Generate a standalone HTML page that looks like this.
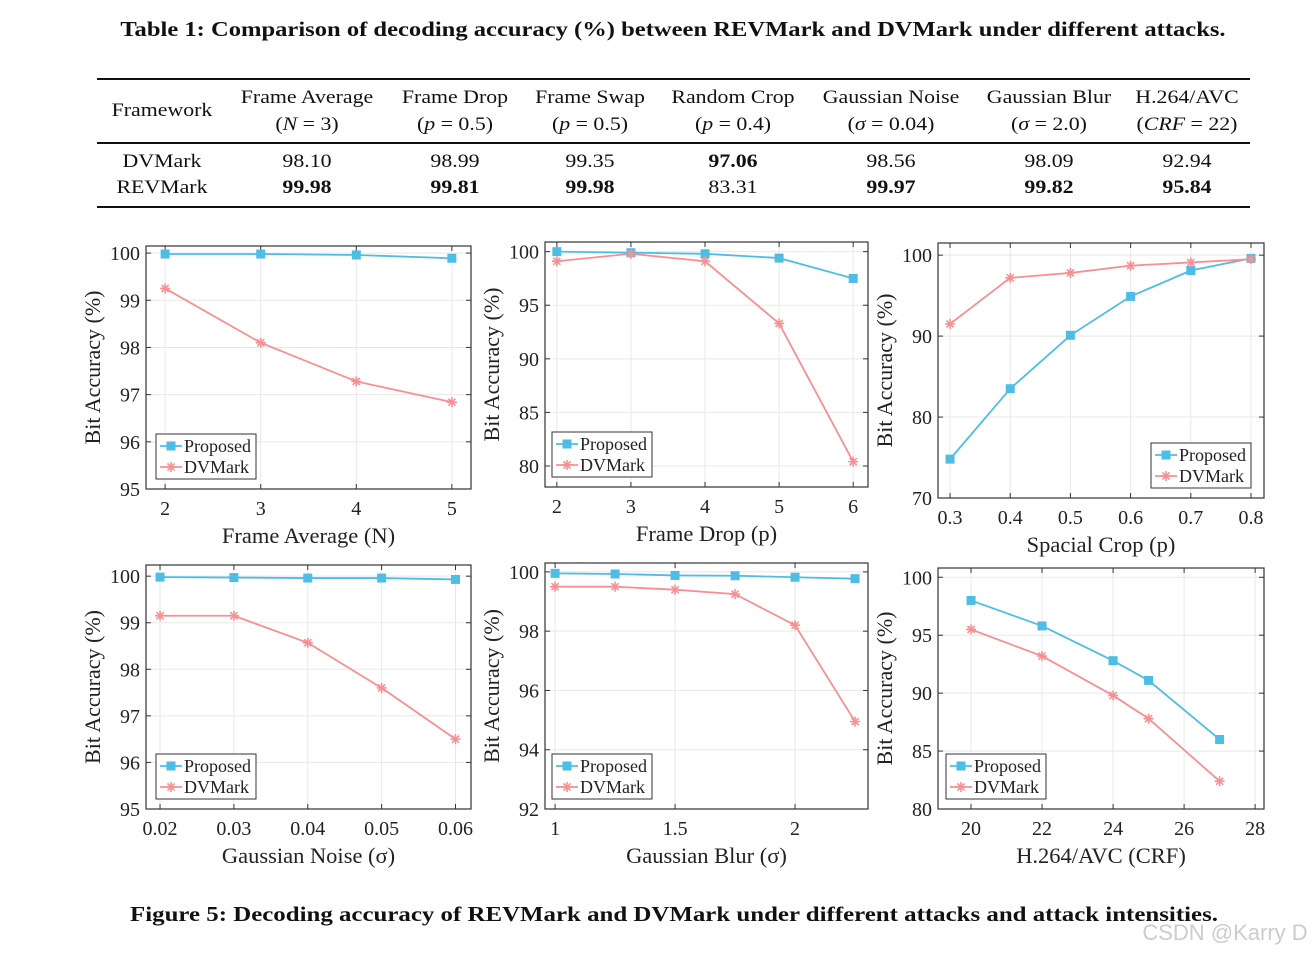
<!DOCTYPE html>
<html><head><meta charset="utf-8"><style>
body{margin:0;width:1315px;height:956px;background:#fff;position:relative;overflow:hidden;font-family:"Liberation Serif",serif;color:#111}
.t{position:absolute;white-space:nowrap;transform:translateX(-50%) scaleX(1.15);font-size:19px}
.b{font-weight:bold}
.hl{position:absolute;left:97px;width:1153px;background:#111}
</style></head><body>
<div class="t b" style="left:673px;top:17px;font-size:21px;transform:translateX(-50%) scaleX(1.17)">Table 1: Comparison of decoding accuracy (%) between REVMark and DVMark under different attacks.</div>
<div class="hl" style="top:78px;height:2px"></div>
<div class="hl" style="top:142px;height:1.5px"></div>
<div class="hl" style="top:206px;height:2px"></div>
<div id="tbl"></div>
<svg id="ch" width="1315" height="956" style="position:absolute;left:0;top:0"></svg>
<div class="t b" style="left:674px;top:902px;font-size:21px;transform:translateX(-50%) scaleX(1.185)">Figure 5: Decoding accuracy of REVMark and DVMark under different attacks and attack intensities.</div>
<div class="t" style="left:1225px;top:920px;font-family:'Liberation Sans',sans-serif;color:#ccc;font-size:22px;transform:translateX(-50%)">CSDN @Karry D</div>
<script>
const cols=[162,307,455,590,733,891,1049,1187];
const head1=["Framework","Frame Average","Frame Drop","Frame Swap","Random Crop","Gaussian Noise","Gaussian Blur","H.264/AVC"];
const head2=["","(<i>N</i> = 3)","(<i>p</i> = 0.5)","(<i>p</i> = 0.5)","(<i>p</i> = 0.4)","(<i>σ</i> = 0.04)","(<i>σ</i> = 2.0)","(<i>CRF</i> = 22)"];
const rowDV=["DVMark","98.10","98.99","99.35","97.06","98.56","98.09","92.94"];
const rowRE=["REVMark","99.98","99.81","99.98","83.31","99.97","99.82","95.84"];
const boldDV=[0,0,0,0,1,0,0,0], boldRE=[0,1,1,1,0,1,1,1];
const tb=document.getElementById('tbl');
function cell(txt,x,y,bold,name){const d=document.createElement('div');d.className='t'+(bold?' b':'');d.style.left=x+'px';d.style.top=y+'px';d.innerHTML=txt;


tb.appendChild(d);}
cols.forEach((x,i)=>{
 if(i==0)cell(head1[i],x,100,0,'header-framework');else{cell(head1[i],x,87,0,'header-cell');cell(head2[i],x,114,0,'header-param');}
 cell(rowDV[i],x,151,boldDV[i],'dvmark-cell');cell(rowRE[i],x,177,boldRE[i],'revmark-cell');
});

const NS='http://www.w3.org/2000/svg';const svg=document.getElementById('ch');
function el(t,a,p){const e=document.createElementNS(NS,t);for(const k in a)e.setAttribute(k,a[k]);(p||svg).appendChild(e);return e;}
const BLUE='#4dbde6',RED='#f98f92';
// chart data
const x1=[2,3,4,5], p1=[99.98,99.98,99.96,99.89], d1=[99.25,98.1,97.28,96.84];
const x2=[2,3,4,5,6], p2=[100,99.9,99.8,99.4,97.5], d2=[99.1,99.8,99.1,93.3,80.4];
const x3=[0.3,0.4,0.5,0.6,0.7,0.8], p3=[74.8,83.5,90.1,94.9,98.1,99.6], d3=[91.5,97.2,97.8,98.7,99.1,99.5];
const x4=[0.02,0.03,0.04,0.05,0.06], p4=[99.98,99.97,99.96,99.96,99.93], d4=[99.15,99.15,98.57,97.6,96.5];
const x5=[1,1.25,1.5,1.75,2,2.25], p5=[99.95,99.93,99.88,99.87,99.82,99.77], d5=[99.5,99.5,99.4,99.25,98.2,94.95];
const x6=[20,22,24,25,27], p6=[98,95.8,92.8,91.1,86], d6=[95.5,93.2,89.8,87.8,82.4];
const xt1=["2","3","4","5"],yt1=["95","96","97","98","99","100"];
const xt2=["2","3","4","5","6"],yt2=["80","85","90","95","100"];
const xt3=["0.3","0.4","0.5","0.6","0.7","0.8"],yt3=["70","80","90","100"];
const xt4=["0.02","0.03","0.04","0.05","0.06"],yt4=["95","96","97","98","99","100"];
const xt5=["1","1.5","2"],yt5=["92","94","96","98","100"];
const xt6=["20","22","24","26","28"],yt6=["80","85","90","95","100"];

const panels=[
{L:146,R:471,T:246,B:489,xa:1.8,xb:5.2,ya:95,yb:100.15,x:x1,p:p1,d:d1,xt:xt1,yt:yt1,xl:"Frame Average (N)",leg:[156,434],name:'frame-average'},
{L:545,R:868,T:242,B:487,xa:1.84,xb:6.2,ya:78.04,yb:100.9,x:x2,p:p2,d:d2,xt:xt2,yt:yt2,xl:"Frame Drop (p)",leg:[552,432],name:'frame-drop'},
{L:938,R:1264,T:243,B:498,xa:0.28,xb:0.8216,ya:70,yb:101.5,x:x3,p:p3,d:d3,xt:xt3,yt:yt3,xl:"Spacial Crop (p)",leg:[1151,443],name:'spacial-crop'},
{L:146,R:471,T:565,B:809,xa:0.0181,xb:0.0621,ya:95,yb:100.24,x:x4,p:p4,d:d4,xt:xt4,yt:yt4,xl:"Gaussian Noise (σ)",leg:[156,754],name:'gaussian-noise'},
{L:545,R:868,T:563,B:809,xa:0.958,xb:2.304,ya:92,yb:100.3,x:x5,p:p5,d:d5,xt:xt5,yt:yt5,xl:"Gaussian Blur (σ)",leg:[552,754],name:'gaussian-blur'},
{L:938,R:1264,T:568,B:809,xa:19.07,xb:28.25,ya:80,yb:100.8,x:x6,p:p6,d:d6,xt:xt6,yt:yt6,xl:"H.264/AVC (CRF)",leg:[946,754],name:'h264'}];

function star(g,cx,cy,c){for(let k=0;k<4;k++){const a=k*Math.PI/4,r=5;el('line',{x1:cx-r*Math.cos(a),y1:cy-r*Math.sin(a),x2:cx+r*Math.cos(a),y2:cy+r*Math.sin(a),stroke:c,'stroke-width':1.6},g);}}
function sq(g,cx,cy,c){el('rect',{x:cx-4.5,y:cy-4.5,width:9,height:9,fill:c},g);}
panels.forEach(P=>{
 const g=el('g',{});
 
 
 const sx=v=>P.L+(v-P.xa)/(P.xb-P.xa)*(P.R-P.L), sy=v=>P.B-(v-P.ya)/(P.yb-P.ya)*(P.B-P.T);
 P.xt.forEach(t=>{const X=sx(+t);el('line',{x1:X,y1:P.T,x2:X,y2:P.B,stroke:'#e8e8e8'},g);el('line',{x1:X,y1:P.B,x2:X,y2:P.B-5,stroke:'#333'},g);el('line',{x1:X,y1:P.T,x2:X,y2:P.T+5,stroke:'#333'},g);
  const tx=el('text',{x:X,y:P.B+26,'text-anchor':'middle','font-size':20,fill:'#222'},g);tx.textContent=t;});
 P.yt.forEach(t=>{const Y=sy(+t);el('line',{x1:P.L,y1:Y,x2:P.R,y2:Y,stroke:'#e8e8e8'},g);el('line',{x1:P.L,y1:Y,x2:P.L+5,y2:Y,stroke:'#333'},g);el('line',{x1:P.R,y1:Y,x2:P.R-5,y2:Y,stroke:'#333'},g);
  const tx=el('text',{x:P.L-6,y:Y+7,'text-anchor':'end','font-size':20,fill:'#222'},g);tx.textContent=t;});
 el('rect',{x:P.L,y:P.T,width:P.R-P.L,height:P.B-P.T,fill:'none',stroke:'#333','stroke-width':1.2},g);
 const xl=el('text',{x:(P.L+P.R)/2,y:P.B+54,'text-anchor':'middle','font-size':22.5,fill:'#222'},g);xl.textContent=P.xl;
 
 
 const yc=(P.T+P.B)/2;const yl=el('text',{x:P.L-46,y:yc,'text-anchor':'middle','font-size':22,fill:'#222',transform:`rotate(-90 ${P.L-46} ${yc})`},g);yl.textContent="Bit Accuracy (%)";
 
 
 const pd=P.x.map((v,i)=>sx(v)+','+sy(P.p[i])).join(' '), dd=P.x.map((v,i)=>sx(v)+','+sy(P.d[i])).join(' ');
 const lp=el('polyline',{points:pd,fill:'none',stroke:BLUE,'stroke-width':1.8},g);
 
 
 const ld=el('polyline',{points:dd,fill:'none',stroke:RED,'stroke-width':1.8},g);
 
 
 P.x.forEach((v,i)=>{sq(g,sx(v),sy(P.p[i]),BLUE);star(g,sx(v),sy(P.d[i]),RED);});
 const [lx,ly]=P.leg;const lg=el('g',{},g);
 
 
 el('rect',{x:lx,y:ly,width:100,height:45,fill:'#fff',stroke:'#333'},lg);
 el('line',{x1:lx+4,y1:ly+12,x2:lx+26,y2:ly+12,stroke:BLUE,'stroke-width':1.8},lg);sq(lg,lx+15,ly+12,BLUE);
 el('line',{x1:lx+4,y1:ly+33,x2:lx+26,y2:ly+33,stroke:RED,'stroke-width':1.8},lg);star(lg,lx+15,ly+33,RED);
 const a=el('text',{x:lx+28,y:ly+18,'font-size':18,fill:'#222'},lg);a.textContent="Proposed";
 const b=el('text',{x:lx+28,y:ly+39,'font-size':18,fill:'#222'},lg);b.textContent="DVMark";
});
</script>
</body></html>
